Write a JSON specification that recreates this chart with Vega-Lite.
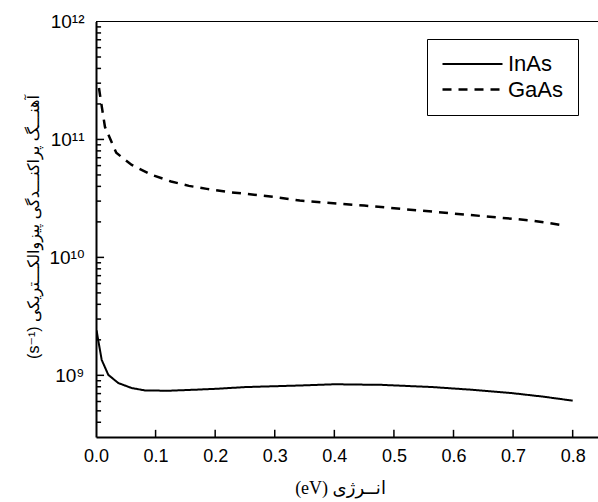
{
  "$schema": "https://vega.github.io/schema/vega-lite/v6.json",
  "width": 502,
  "height": 415.5,
  "autosize": {"type": "none"},
  "padding": {"left": 96, "top": 21.5, "right": 0, "bottom": 65},
  "background": "white",
  "config": {
    "view": {"stroke": null},
    "axis": {"domainColor": "black", "tickColor": "black", "labelColor": "black", "titleColor": "black", "grid": false}
  },
  "data": {
    "values": [
      {"material": "InAs", "energy": 0.001, "rate": 2.4e9},
      {"material": "InAs", "energy": 0.004, "rate": 1.95e9},
      {"material": "InAs", "energy": 0.0096, "rate": 1.35e9},
      {"material": "InAs", "energy": 0.0206, "rate": 1.01e9},
      {"material": "InAs", "energy": 0.0374, "rate": 8.6e8},
      {"material": "InAs", "energy": 0.06, "rate": 7.8e8},
      {"material": "InAs", "energy": 0.082, "rate": 7.45e8},
      {"material": "InAs", "energy": 0.121, "rate": 7.4e8},
      {"material": "InAs", "energy": 0.166, "rate": 7.55e8},
      {"material": "InAs", "energy": 0.205, "rate": 7.7e8},
      {"material": "InAs", "energy": 0.25, "rate": 7.95e8},
      {"material": "InAs", "energy": 0.342, "rate": 8.2e8},
      {"material": "InAs", "energy": 0.4, "rate": 8.4e8},
      {"material": "InAs", "energy": 0.48, "rate": 8.3e8},
      {"material": "InAs", "energy": 0.565, "rate": 7.95e8},
      {"material": "InAs", "energy": 0.63, "rate": 7.55e8},
      {"material": "InAs", "energy": 0.7, "rate": 7.05e8},
      {"material": "InAs", "energy": 0.75, "rate": 6.6e8},
      {"material": "InAs", "energy": 0.8, "rate": 6.1e8},
      {"material": "GaAs", "energy": 0.005, "rate": 2.73e11},
      {"material": "GaAs", "energy": 0.008, "rate": 2.16e11},
      {"material": "GaAs", "energy": 0.015, "rate": 1.28e11},
      {"material": "GaAs", "energy": 0.034, "rate": 7.7e10},
      {"material": "GaAs", "energy": 0.06, "rate": 6.08e10},
      {"material": "GaAs", "energy": 0.094, "rate": 5.0e10},
      {"material": "GaAs", "energy": 0.126, "rate": 4.4e10},
      {"material": "GaAs", "energy": 0.156, "rate": 4.04e10},
      {"material": "GaAs", "energy": 0.186, "rate": 3.81e10},
      {"material": "GaAs", "energy": 0.22, "rate": 3.59e10},
      {"material": "GaAs", "energy": 0.247, "rate": 3.48e10},
      {"material": "GaAs", "energy": 0.3, "rate": 3.25e10},
      {"material": "GaAs", "energy": 0.342, "rate": 3.03e10},
      {"material": "GaAs", "energy": 0.45, "rate": 2.75e10},
      {"material": "GaAs", "energy": 0.594, "rate": 2.37e10},
      {"material": "GaAs", "energy": 0.733, "rate": 2.05e10},
      {"material": "GaAs", "energy": 0.787, "rate": 1.86e10}
    ]
  },
  "layer": [
    {
      "mark": {"type": "line", "color": "black", "clip": true},
      "encoding": {
        "x": {
          "field": "energy", "type": "quantitative",
          "scale": {"domain": [0, 0.8425], "nice": false, "zero": false},
          "axis": {
            "orient": "bottom",
            "values": [0, 0.1, 0.2, 0.3, 0.4, 0.5, 0.6, 0.7, 0.8],
            "format": ".1f",
            "labelFlush": false,
            "ticks": false, "domainWidth": 2,
            "labelPadding": 10,
            "labelFont": "Liberation Sans", "labelFontSize": 18,
            "title": "(eV) انــرژی",
            "titleFont": "Liberation Serif, DejaVu Sans", "titleFontSize": 18, "titleFontWeight": "normal",
            "titleX": 244, "titleY": 51, "titleBaseline": "middle", "titleAlign": "center"
          }
        },
        "y": {
          "field": "rate", "type": "quantitative",
          "scale": {"type": "log", "domain": [3e8, 1e12], "nice": false},
          "axis": {
            "orient": "left",
            "values": [1e9, 1e10, 1e11, 1e12],
            "labelExpr": "round(log(datum.value)/LN10) == 12 ? '10¹²' : round(log(datum.value)/LN10) == 11 ? '10¹¹' : round(log(datum.value)/LN10) == 10 ? '10¹⁰' : '10⁹'",
            "ticks": false, "domainWidth": 2,
            "labelPadding": 12,
            "labelFont": "Liberation Sans, DejaVu Sans", "labelFontSize": 19,
            "title": "(s⁻¹) آهنـــگ پراکنـــدگی پیزوالکـــتریکی",
            "titleFont": "Liberation Sans, DejaVu Sans", "titleFontSize": 16, "titleFontWeight": "normal",
            "titleAngle": -90, "titleX": -63, "titleY": 205, "titleBaseline": "middle", "titleAlign": "center"
          }
        },
        "strokeDash": {
          "field": "material", "type": "nominal",
          "scale": {"domain": ["InAs", "GaAs"], "range": [[1, 0], [9, 7]]},
          "legend": {
            "title": null,
            "orient": "none", "legendX": 331, "legendY": 17.5,
            "strokeColor": "black", "fillColor": "white", "padding": 14,
            "rowPadding": 3,
            "symbolType": "M-1,0H5", "symbolSize": 400,
            "symbolStrokeWidth": 2, "symbolStrokeColor": "black", "symbolFillColor": "transparent",
            "labelOffset": 44,
            "labelFont": "Liberation Sans", "labelFontSize": 22, "labelColor": "black"
          }
        },
        "strokeWidth": {
          "field": "material", "type": "nominal",
          "scale": {"domain": ["InAs", "GaAs"], "range": [2, 2.5]},
          "legend": null
        }
      }
    },
    {
      "mark": {"type": "rule", "color": "black", "strokeWidth": 1},
      "encoding": {
        "y": {"datum": 1e12, "type": "quantitative"}
      }
    },
    {
      "data": {"values": [
        {"tick": 0.1}, {"tick": 0.2}, {"tick": 0.3}, {"tick": 0.4},
        {"tick": 0.5}, {"tick": 0.6}, {"tick": 0.7}, {"tick": 0.8}
      ]},
      "mark": {"type": "rule", "color": "black", "strokeWidth": 1.5},
      "encoding": {
        "x": {"field": "tick", "type": "quantitative"},
        "y": {"datum": 3e8, "type": "quantitative"},
        "y2": {"datum": 3.45e8}
      }
    },
    {
      "data": {"values": [
        {"tick": 1e9}, {"tick": 1e10}, {"tick": 1e11}
      ]},
      "mark": {"type": "rule", "color": "black", "strokeWidth": 1.5},
      "encoding": {
        "y": {"field": "tick", "type": "quantitative"},
        "x": {"datum": 0, "type": "quantitative"},
        "x2": {"datum": 0.0135}
      }
    },
    {
      "data": {"values": [
        {"tick": 4e8}, {"tick": 5e8}, {"tick": 6e8}, {"tick": 7e8}, {"tick": 8e8}, {"tick": 9e8},
        {"tick": 2e9}, {"tick": 3e9}, {"tick": 4e9}, {"tick": 5e9}, {"tick": 6e9}, {"tick": 7e9}, {"tick": 8e9}, {"tick": 9e9},
        {"tick": 2e10}, {"tick": 3e10}, {"tick": 4e10}, {"tick": 5e10}, {"tick": 6e10}, {"tick": 7e10}, {"tick": 8e10}, {"tick": 9e10},
        {"tick": 2e11}, {"tick": 3e11}, {"tick": 4e11}, {"tick": 5e11}, {"tick": 6e11}, {"tick": 7e11}, {"tick": 8e11}, {"tick": 9e11}
      ]},
      "mark": {"type": "rule", "color": "black", "strokeWidth": 1.5},
      "encoding": {
        "y": {"field": "tick", "type": "quantitative"},
        "x": {"datum": 0, "type": "quantitative"},
        "x2": {"datum": 0.0085}
      }
    }
  ]
}
